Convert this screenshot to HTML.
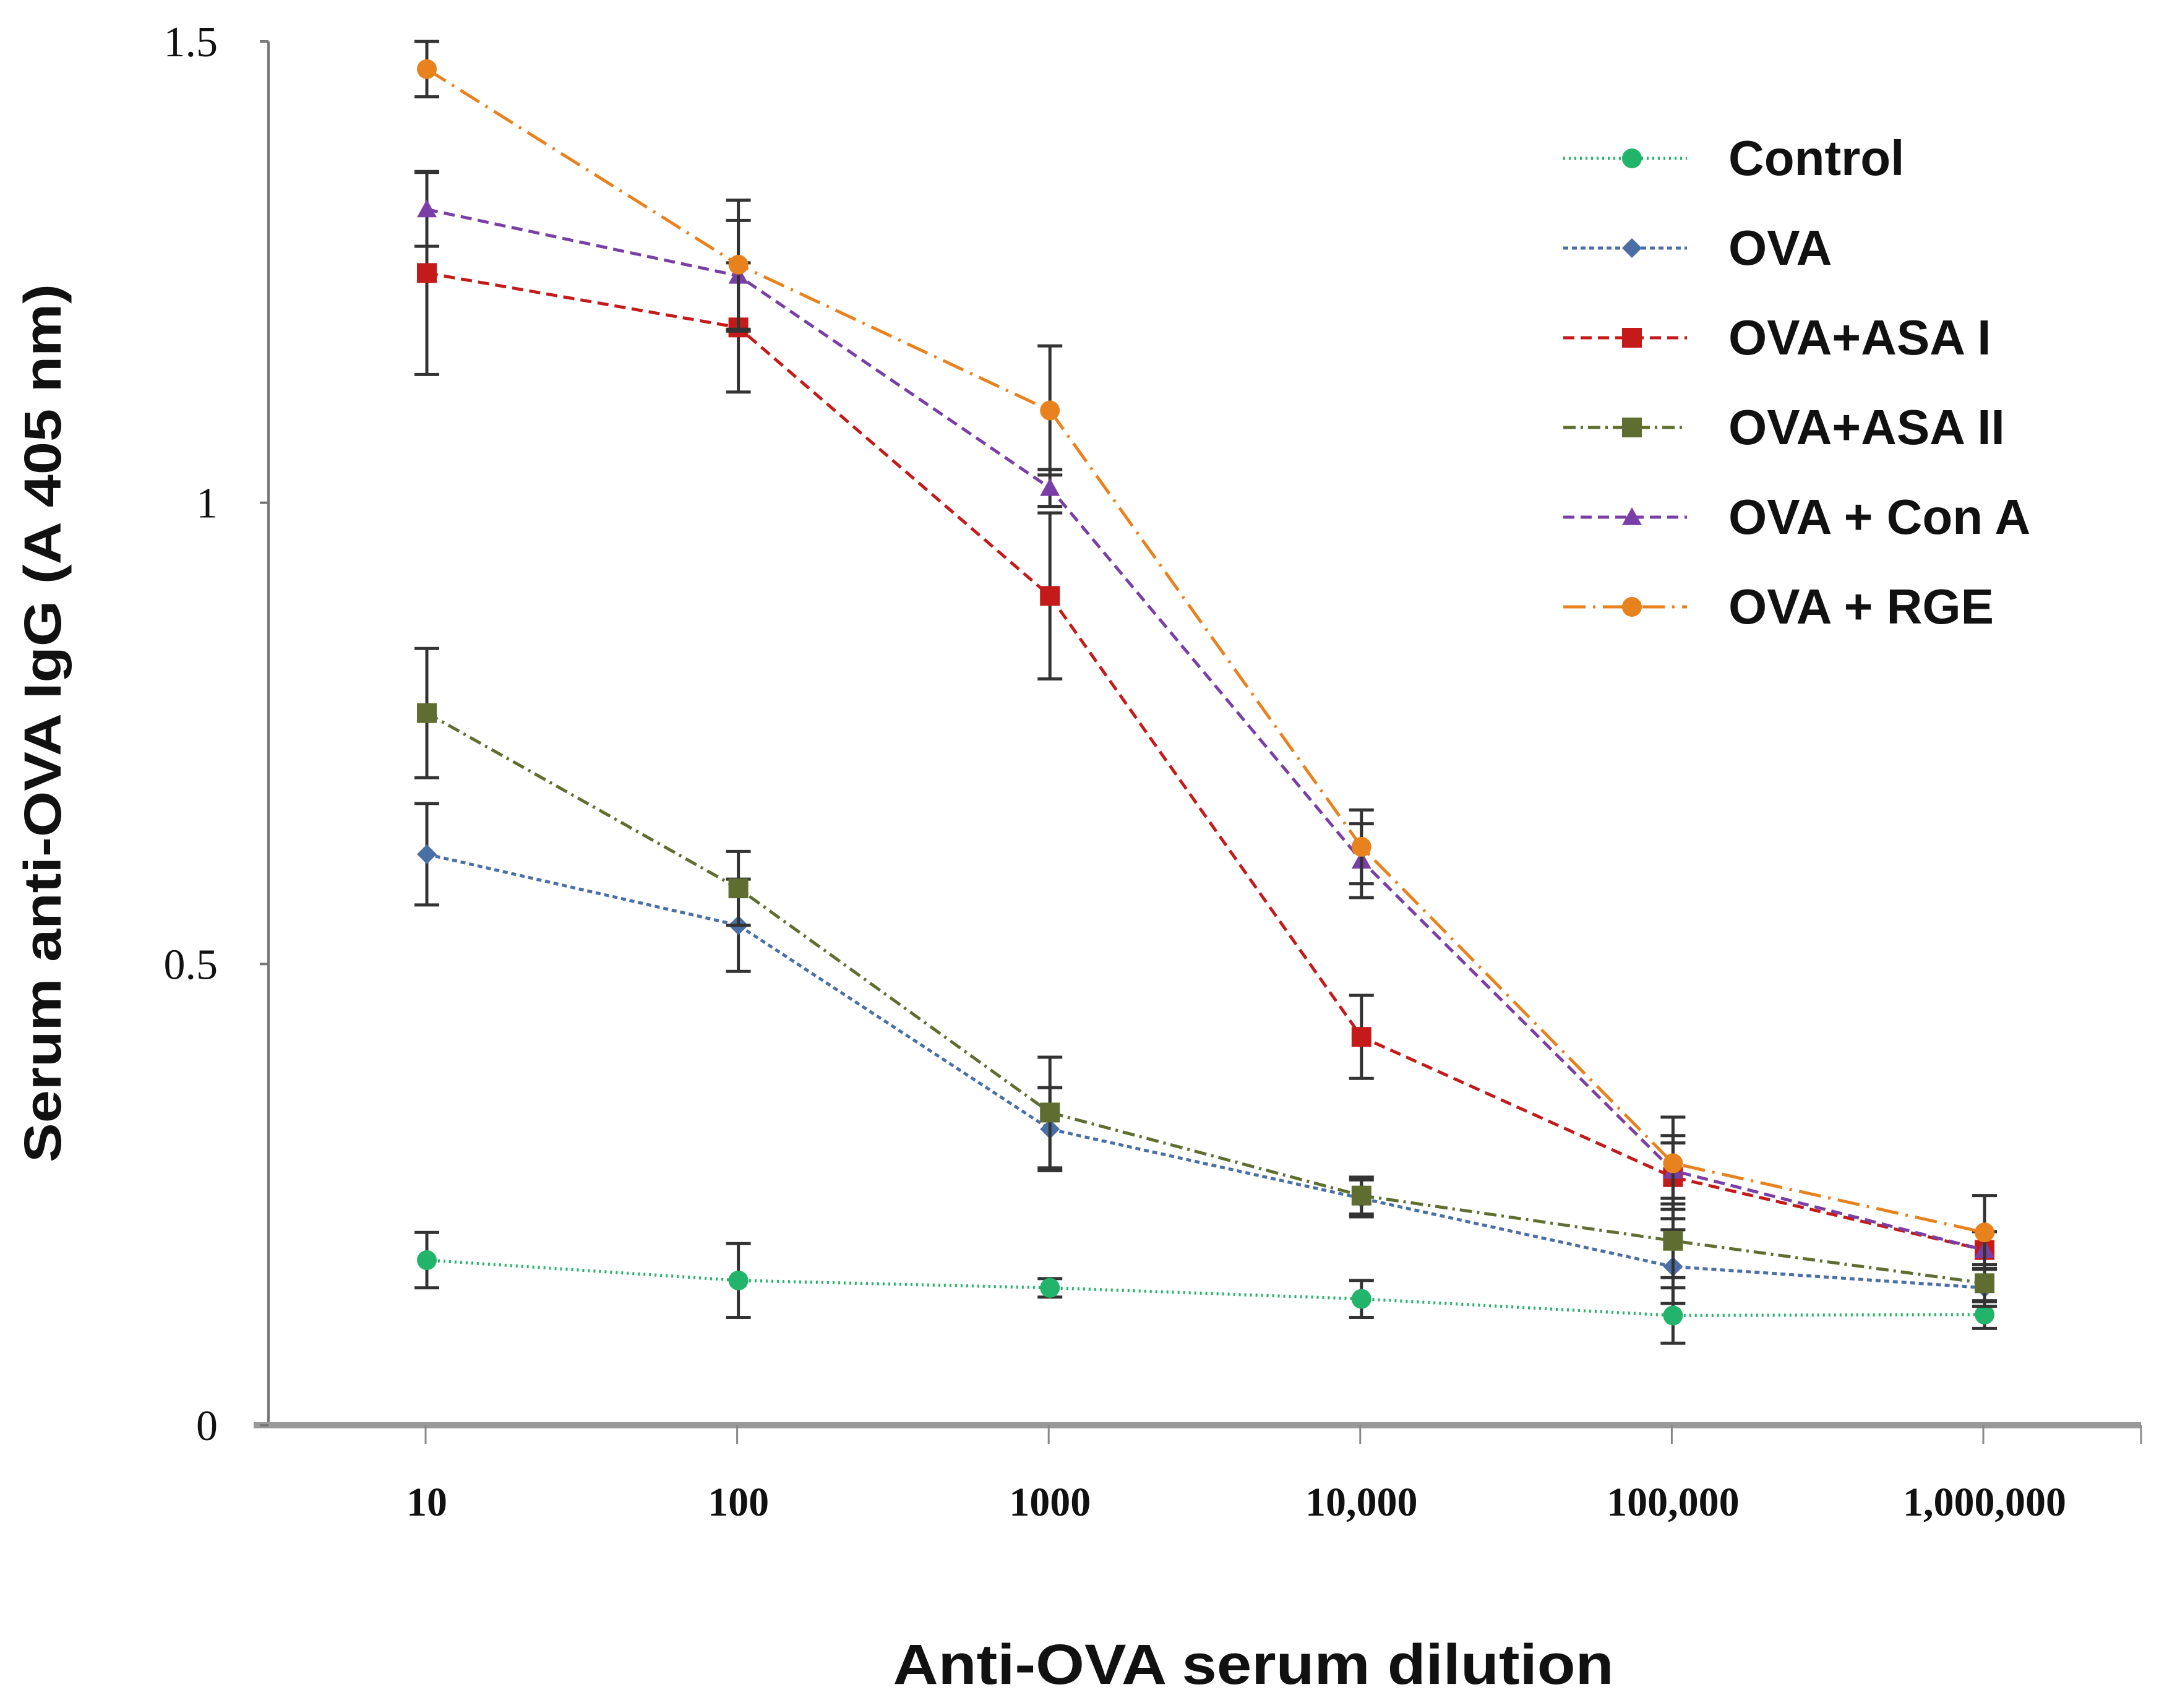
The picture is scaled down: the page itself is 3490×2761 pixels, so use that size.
<!DOCTYPE html>
<html><head><meta charset="utf-8"><style>
html,body{margin:0;padding:0;background:#fff;}
svg{display:block;}
</style></head><body>
<svg id="chart" width="3490" height="2761" viewBox="0 0 3490 2761" xmlns="http://www.w3.org/2000/svg" font-family="Liberation Sans, sans-serif">
<g id="axes"></g>
<g id="series"></g>
<g id="legend"></g>
<text transform="translate(98,1169) rotate(-90)" text-anchor="middle" font-size="84" font-weight="bold" fill="#111" textLength="1420" lengthAdjust="spacingAndGlyphs">Serum anti-OVA IgG (A 405 nm)</text>
<text x="2026" y="2722" text-anchor="middle" font-size="92" font-weight="bold" fill="#111" textLength="1165" lengthAdjust="spacingAndGlyphs">Anti-OVA serum dilution</text>
</svg>
<script>
const categories = ["10","100","1000","10,000","100,000","1,000,000"];
const yTicks = [0,0.5,1,1.5];
const yTickLabels = ["0","0.5","1","1.5"];
const seriesNames = ["Control","OVA","OVA+ASA I","OVA+ASA II","OVA + Con A","OVA + RGE"];
const controlVals = [0.179,0.157,0.149,0.137,0.119,0.12];
const controlErr = [0.03,0.04,0.01,0.02,0.03,0.015];
const ovaVals = [0.619,0.542,0.321,0.246,0.172,0.149];
const ovaErr = [0.055,0.05,0.045,0.02,0.04,0.02];
const asa1Vals = [1.249,1.19,0.899,0.421,0.269,0.19];
const asa1Err = [0.11,0.07,0.09,0.045,0.045,0.02];
const asa2Vals = [0.772,0.582,0.339,0.249,0.2,0.154];
const asa2Err = [0.07,0.04,0.06,0.02,0.04,0.02];
const conaVals = [1.318,1.246,1.016,0.612,0.276,0.19];
const conaErr = [0.04,0.06,0.02,0.04,0.03,0.02];
const rgeVals = [1.47,1.258,1.1,0.627,0.284,0.209];
const rgeErr = [0.03,0.07,0.07,0.04,0.05,0.04];

const NS="http://www.w3.org/2000/svg";
const X0=690, XS=503.6, Y0=2304, YTOP=67;
function xPos(i){return X0+i*XS;}
function yPos(v){return Y0-(v/1.5)*(Y0-YTOP);}
function mk(tag,attrs,parent){const e=document.createElementNS(NS,tag);for(const k in attrs)e.setAttribute(k,attrs[k]);parent.appendChild(e);return e;}

const axes=document.getElementById('axes');
let yl=mk('line',{x1:434,y1:YTOP,x2:434,y2:Y0,stroke:'#777','stroke-width':4},axes);


let xl=mk('line',{x1:410,y1:Y0,x2:3461,y2:Y0,stroke:'#999','stroke-width':10},axes);


yTicks.forEach((t,i)=>{
  let tk=mk('line',{x1:420,y1:yPos(t),x2:434,y2:yPos(t),stroke:'#777','stroke-width':4},axes);
  
  
  let tx=mk('text',{x:352,y:yPos(t)+24,'text-anchor':'end','font-size':70,'font-family':'Liberation Serif, serif',fill:'#111'},axes);
  tx.textContent=yTickLabels[i];
  
  
});
categories.forEach((c,i)=>{
  let tk=mk('line',{x1:xPos(i)-2,y1:Y0,x2:xPos(i)-2,y2:Y0+30,stroke:'#888','stroke-width':3},axes);
  
  
  let tx=mk('text',{x:xPos(i),y:2450,'text-anchor':'middle','font-size':66,'font-weight':'bold','font-family':'Liberation Serif, serif',fill:'#111'},axes);
  tx.textContent=c;
  
  
});
let xe=mk('line',{x1:3461,y1:Y0,x2:3461,y2:Y0+30,stroke:'#888','stroke-width':3},axes);



const defs=[
 {vals:controlVals,err:controlErr,color:'#22b46a',dash:'3,6',marker:'circle',key:'control'},
 {vals:ovaVals,err:ovaErr,color:'#4a6fa5',dash:'8,6',marker:'diamond',key:'ova'},
 {vals:asa1Vals,err:asa1Err,color:'#c41a1a',dash:'18,10',marker:'square',key:'ova-asa-i'},
 {vals:asa2Vals,err:asa2Err,color:'#5f6e30',dash:'20,8,4,8',marker:'square',key:'ova-asa-ii'},
 {vals:conaVals,err:conaErr,color:'#7a3fa6',dash:'18,10',marker:'triangle',key:'ova-con-a'},
 {vals:rgeVals,err:rgeErr,color:'#e8821e',dash:'36,12,4,12',marker:'circle',key:'ova-rge'}
];
function marker(g,type,x,y,color,s){
  let e;
  if(type==='circle') e=mk('circle',{cx:x,cy:y,r:s,fill:color},g);
  else if(type==='square') e=mk('rect',{x:x-s,y:y-s,width:2*s,height:2*s,fill:color},g);
  else if(type==='diamond') e=mk('polygon',{points:`${x},${y-s} ${x+s},${y} ${x},${y+s} ${x-s},${y}`,fill:color},g);
  else e=mk('polygon',{points:`${x},${y-s} ${x+s},${y+s*0.8} ${x-s},${y+s*0.8}`,fill:color},g);
  return e;
}
const sg=document.getElementById('series');
defs.forEach((d,si)=>{
  const g=mk('g',{},sg);
  
  
  const pts=d.vals.map((v,i)=>xPos(i)+','+yPos(v)).join(' ');
  const pl=mk('polyline',{points:pts,fill:'none',stroke:d.color,'stroke-width':5,'stroke-dasharray':d.dash},g);
  
  
  d.vals.forEach((v,i)=>{
    const x=xPos(i),y1=yPos(v+d.err[i]),y2=yPos(v-d.err[i]);
    const eb=mk('path',{d:`M${x},${y1}V${y2}M${x-20},${y1}H${x+20}M${x-20},${y2}H${x+20}`,stroke:'#333','stroke-width':5,fill:'none'},g);
    
    
    const m=marker(g,d.marker,x,yPos(v),d.color,16);
    
    
  });
});
const lg=document.getElementById('legend');
defs.forEach((d,i)=>{
  const y=256+i*145;
  const g=mk('g',{},lg);
  
  
  mk('line',{x1:2527,y1:y,x2:2727,y2:y,stroke:d.color,'stroke-width':5,'stroke-dasharray':d.dash},g);
  marker(g,d.marker,2638,y,d.color,16);
  const t=mk('text',{x:2794,y:y+27,'font-size':80,'font-weight':'bold',fill:'#111'},g);
  t.textContent=seriesNames[i];
  
  
});
</script>
</body></html>
